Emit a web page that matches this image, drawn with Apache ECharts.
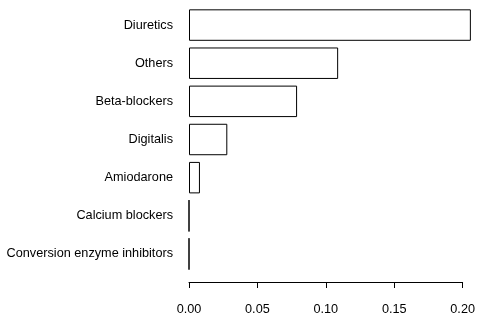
<!DOCTYPE html>
<html>
<head>
<meta charset="utf-8">
<script src="https://cdn.jsdelivr.net/npm/echarts@6/dist/echarts.min.js"></script>
<style>
  html, body { margin: 0; padding: 0; background: #fff; }
  #content { width: 478px; height: 316px; }
</style>
</head>
<body>
<div id="content"></div>
<script>
const drugs = ['Diuretics', 'Others', 'Beta-blockers', 'Digitalis', 'Amiodarone',
  'Calcium blockers', 'Conversion enzyme inhibitors'];
const proportions = [0.206, 0.109, 0.079, 0.028, 0.008, 0, 0];
const xTicks = [0, 0.05, 0.10, 0.15, 0.20];

const chart = echarts.init(document.getElementById('content'));
const font = 'Liberation Sans, Arial, sans-serif';
chart.setOption({
  animation: false,
  grid: { left: 189, right: 14, top: 6, bottom: 42 },
  xAxis: {
    type: 'value',
    min: xTicks[0],
    max: xTicks[xTicks.length - 1],
    interval: 0.05,
    offset: 9,
    splitLine: { show: false },
    axisLine: { show: true, lineStyle: { color: '#000', width: 1 } },
    axisTick: { show: true, length: 6, lineStyle: { color: '#000' } },
    axisLabel: {
      color: '#000', fontFamily: font, fontSize: 12.7, margin: 21,
      formatter: v => v.toFixed(2)
    }
  },
  yAxis: {
    type: 'category',
    inverse: true,
    data: drugs,
    axisLine: { show: false },
    axisTick: { show: false },
    axisLabel: { color: '#000', fontFamily: font, fontSize: 12.7, margin: 16 }
  },
  series: [{
    type: 'bar',
    data: proportions,
    clip: false,
    barCategoryGap: '17.5%',
    itemStyle: { color: '#fff', borderColor: '#000', borderWidth: 1 }
  }]
});
</script>
</body>
</html>
